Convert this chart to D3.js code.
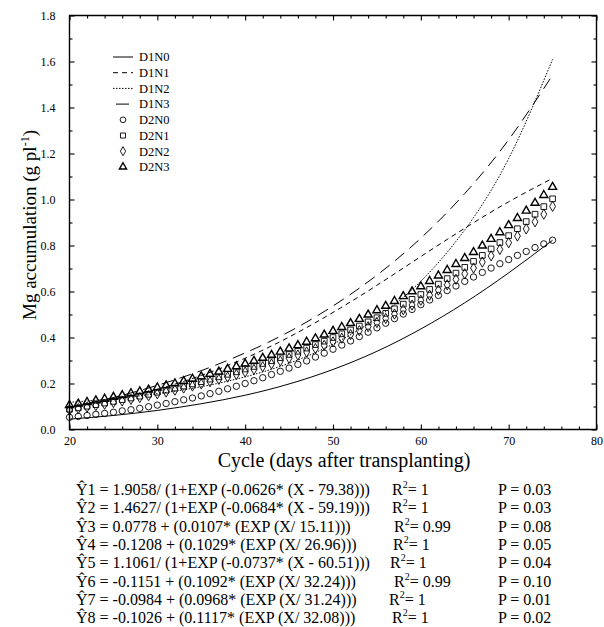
<!DOCTYPE html>
<html>
<head>
<meta charset="utf-8">
<title>Mg accumulation</title>
<style>
  body { margin: 0; background: #fff; }
  text { font-family: "Liberation Serif", "Times New Roman", serif; fill: #000; }
</style>
</head>
<body>
<svg width="604" height="627"></svg>
<script src="https://d3js.org/d3.v7.min.js"></script>
<script>
// data
var seriesNames = ["D1N0", "D1N1", "D1N2", "D1N3", "D2N0", "D2N1", "D2N2", "D2N3"];

// fitted lines (D1), every 5 days
var lineDays = [20, 25, 30, 35, 40, 45, 50, 55, 60, 65, 70, 75];
var d1n0 = [0.045, 0.061, 0.083, 0.112, 0.149, 0.198, 0.261, 0.340, 0.437, 0.551, 0.681, 0.823];
var d1n1 = [0.094, 0.129, 0.175, 0.235, 0.310, 0.402, 0.509, 0.627, 0.752, 0.875, 0.990, 1.092];
var d1n2 = [0.118, 0.134, 0.156, 0.186, 0.229, 0.288, 0.371, 0.485, 0.645, 0.868, 1.178, 1.609];
var d1n3 = [0.095, 0.139, 0.192, 0.256, 0.333, 0.425, 0.537, 0.671, 0.832, 1.026, 1.260, 1.541];

// symbols (D2), every day
var days = [20, 21, 22, 23, 24, 25, 26, 27, 28, 29, 30, 31, 32, 33, 34, 35, 36, 37, 38, 39,
  40, 41, 42, 43, 44, 45, 46, 47, 48, 49, 50, 51, 52, 53, 54, 55, 56, 57, 58, 59,
  60, 61, 62, 63, 64, 65, 66, 67, 68, 69, 70, 71, 72, 73, 74, 75];
var d2n0 = [0.053, 0.057, 0.061, 0.066, 0.070, 0.075, 0.081, 0.086, 0.092, 0.099,
  0.106, 0.113, 0.121, 0.129, 0.137, 0.146, 0.156, 0.166, 0.177, 0.188,
  0.200, 0.212, 0.225, 0.239, 0.253, 0.267, 0.283, 0.298, 0.315, 0.332,
  0.349, 0.367, 0.385, 0.404, 0.423, 0.442, 0.462, 0.482, 0.502, 0.522,
  0.543, 0.563, 0.583, 0.604, 0.624, 0.644, 0.663, 0.683, 0.702, 0.721,
  0.739, 0.757, 0.774, 0.791, 0.807, 0.823];
var d2n1 = [0.088, 0.094, 0.101, 0.108, 0.115, 0.122, 0.130, 0.137, 0.145, 0.153,
  0.162, 0.171, 0.180, 0.189, 0.198, 0.208, 0.219, 0.229, 0.240, 0.251,
  0.263, 0.274, 0.287, 0.299, 0.312, 0.326, 0.340, 0.354, 0.369, 0.384,
  0.400, 0.416, 0.433, 0.450, 0.468, 0.486, 0.505, 0.525, 0.545, 0.566,
  0.587, 0.609, 0.632, 0.656, 0.680, 0.705, 0.731, 0.757, 0.785, 0.813,
  0.843, 0.873, 0.904, 0.936, 0.969, 1.003];
var d2n2 = [0.085, 0.091, 0.097, 0.104, 0.110, 0.117, 0.124, 0.131, 0.139, 0.147,
  0.155, 0.163, 0.171, 0.180, 0.189, 0.198, 0.208, 0.218, 0.228, 0.239,
  0.250, 0.261, 0.273, 0.285, 0.298, 0.310, 0.324, 0.337, 0.352, 0.366,
  0.381, 0.397, 0.413, 0.430, 0.447, 0.465, 0.483, 0.502, 0.521, 0.541,
  0.562, 0.584, 0.606, 0.629, 0.653, 0.677, 0.702, 0.728, 0.755, 0.783,
  0.812, 0.841, 0.872, 0.903, 0.936, 0.970];
var d2n3 = [0.106, 0.112, 0.119, 0.126, 0.133, 0.141, 0.149, 0.157, 0.165, 0.173,
  0.182, 0.191, 0.200, 0.210, 0.220, 0.230, 0.241, 0.251, 0.263, 0.274,
  0.286, 0.298, 0.311, 0.324, 0.338, 0.352, 0.366, 0.381, 0.396, 0.412,
  0.428, 0.445, 0.462, 0.480, 0.499, 0.518, 0.537, 0.558, 0.579, 0.600,
  0.622, 0.645, 0.669, 0.693, 0.719, 0.745, 0.771, 0.799, 0.828, 0.857,
  0.888, 0.919, 0.951, 0.985, 1.019, 1.054];

var xTicks = [20, 30, 40, 50, 60, 70, 80];
var yTicks = [0.0, 0.2, 0.4, 0.6, 0.8, 1.0, 1.2, 1.4, 1.6, 1.8];

// regression equations under the plot
var eqNames = ["1", "2", "3", "4", "5", "6", "7", "8"];
var eqBodies = [
  "1.9058/ (1+EXP (-0.0626* (X - 79.38)))",
  "1.4627/ (1+EXP (-0.0684* (X - 59.19)))",
  "0.0778 + (0.0107* (EXP (X/ 15.11)))",
  "-0.1208 + (0.1029* (EXP (X/ 26.96)))",
  "1.1061/ (1+EXP (-0.0737* (X - 60.51)))",
  "-0.1151 + (0.1092* (EXP (X/ 32.24)))",
  "-0.0984 + (0.0968* (EXP (X/ 31.24)))",
  "-0.1026 + (0.1117* (EXP (X/ 32.08)))"
];
var r2Values = ["1", "1", "0.99", "1", "1", "0.99", "1", "1"];
var pValues = ["0.03", "0.03", "0.08", "0.05", "0.04", "0.10", "0.01", "0.02"];

// layout
var svg = d3.select("svg");
var plotLeft = 69.5, plotRight = 596.5, plotTop = 15.5, plotBottom = 429.5;

var x = d3.scaleLinear().domain([20, 80]).range([plotLeft, plotRight]);
var y = d3.scaleLinear().domain([0, 1.8]).range([plotBottom, plotTop]);

var plot = svg.append("g");

// lines
var lineStyles = {
  "D1N0": null,
  "D1N1": "5,4",
  "D1N2": "1.5,1.5",
  "D1N3": "12,7"
};
var lineSeries = [
  { name: "D1N0", values: d1n0 },
  { name: "D1N1", values: d1n1 },
  { name: "D1N2", values: d1n2 },
  { name: "D1N3", values: d1n3 }
];
var line = d3.line()
  .x(function (d) { return x(d[0]); })
  .y(function (d) { return y(d[1]); })
  .curve(d3.curveNatural);

lineSeries.forEach(function (s) {
  plot.append("path")
    .datum(lineDays.map(function (d, i) { return [d, s.values[i]]; }))
    .attr("d", line)
    .attr("fill", "none")
    .attr("stroke", "#000")
    .attr("stroke-width", 1)
    .attr("stroke-dasharray", lineStyles[s.name]);
});

// symbols
var symbolSeries = [
  { name: "D2N0", values: d2n0, type: d3.symbolCircle, size: 32, sw: 0.9 },
  { name: "D2N1", values: d2n1, type: d3.symbolSquare, size: 32, sw: 0.9 },
  { name: "D2N2", values: d2n2, type: d3.symbolDiamond, size: 30, sw: 0.9 },
  { name: "D2N3", values: d2n3, type: d3.symbolTriangle, size: 28, sw: 1.4 }
];
symbolSeries.forEach(function (s) {
  plot.selectAll(null)
    .data(days.map(function (d, i) { return [d, s.values[i]]; }))
    .enter().append("path")
    .attr("transform", function (d) { return "translate(" + x(d[0]) + "," + y(d[1]) + ")"; })
    .attr("d", d3.symbol().type(s.type).size(s.size))
    .attr("fill", "none")
    .attr("stroke", "#000")
    .attr("stroke-width", s.sw);
});

// frame and axes, ticks pointing inward on all four sides
svg.append("path")
  .attr("d", "M" + plotLeft + "," + plotTop + "H" + plotRight + "V" + plotBottom + "H" + plotLeft + "Z")
  .attr("fill", "none").attr("stroke", "#000").attr("stroke-width", 1.4);

function styleAxis(g) {
  g.select(".domain").remove();
  g.selectAll(".tick line").attr("stroke", "#000").attr("stroke-width", 1.1);
  g.selectAll("text").attr("font-size", 12).attr("font-family", "Liberation Serif").attr("fill", "#000");
}
var xMinor = d3.range(22, 80, 2).filter(function (v) { return v % 10 !== 0; });
var yMinor = d3.range(0.1, 1.8, 0.2);

svg.append("g").attr("transform", "translate(0," + plotBottom + ")")
  .call(d3.axisBottom(x).tickValues(xTicks).tickSize(-5).tickPadding(7).tickFormat(d3.format("d")))
  .call(styleAxis);
svg.append("g").attr("transform", "translate(0," + plotBottom + ")")
  .call(d3.axisBottom(x).tickValues(xMinor).tickSize(-3).tickFormat(""))
  .call(styleAxis);
svg.append("g").attr("transform", "translate(0," + plotTop + ")")
  .call(d3.axisTop(x).tickValues(xTicks).tickSize(-5).tickFormat(""))
  .call(styleAxis);
svg.append("g").attr("transform", "translate(0," + plotTop + ")")
  .call(d3.axisTop(x).tickValues(xMinor).tickSize(-3).tickFormat(""))
  .call(styleAxis);

svg.append("g").attr("transform", "translate(" + plotLeft + ",0)")
  .call(d3.axisLeft(y).tickValues(yTicks).tickSize(-5).tickPadding(14).tickFormat(d3.format(".1f")))
  .call(styleAxis);
svg.append("g").attr("transform", "translate(" + plotLeft + ",0)")
  .call(d3.axisLeft(y).tickValues(yMinor).tickSize(-3).tickFormat(""))
  .call(styleAxis);
svg.append("g").attr("transform", "translate(" + plotRight + ",0)")
  .call(d3.axisRight(y).tickValues(yTicks).tickSize(-5).tickFormat(""))
  .call(styleAxis);
svg.append("g").attr("transform", "translate(" + plotRight + ",0)")
  .call(d3.axisRight(y).tickValues(yMinor).tickSize(-3).tickFormat(""))
  .call(styleAxis);

// axis titles
svg.append("text")
  .attr("x", 344).attr("y", 467)
  .attr("text-anchor", "middle").attr("font-size", 20)
  .text("Cycle (days after transplanting)");

var yTitle = svg.append("text")
  .attr("transform", "translate(36,225) rotate(-90)")
  .attr("text-anchor", "middle").attr("font-size", 19);
yTitle.append("tspan").text("Mg accumulation (g pl");
yTitle.append("tspan").attr("font-size", 12).attr("dy", -7).text("-1");
yTitle.append("tspan").attr("dy", 7).text(")");

// legend
var legend = svg.append("g").attr("transform", "translate(113,57)");
seriesNames.forEach(function (name, i) {
  var row = legend.append("g").attr("transform", "translate(0," + i * 15.7 + ")");
  if (i < 4) {
    row.append("line")
      .attr("x1", name === "D1N3" ? 3 : 0).attr("x2", name === "D1N3" ? 16 : 20)
      .attr("y1", 0).attr("y2", 0)
      .attr("stroke", "#000").attr("stroke-width", 1)
      .attr("stroke-dasharray", name === "D1N3" ? null : lineStyles[name]);
  } else {
    var s = symbolSeries[i - 4];
    row.append("path")
      .attr("transform", "translate(10,0)")
      .attr("d", d3.symbol().type(s.type).size(s.size * 0.8))
      .attr("fill", "none").attr("stroke", "#000").attr("stroke-width", s.sw);
  }
  row.append("text")
    .attr("x", 26).attr("y", 0).attr("dy", "0.35em")
    .attr("font-size", 12.5)
    .text(name);
});

// equations block
var r2X = [392, 392, 394, 393, 390, 394, 389, 392];
var eqG = svg.append("g").attr("font-size", 16);
eqBodies.forEach(function (body, i) {
  var yy = 495 + i * 18.3;
  var t = eqG.append("text").attr("x", 76).attr("y", yy);
  t.append("tspan").text("\u0176");
  t.append("tspan").text(eqNames[i] + " = " + body);
  var r = eqG.append("text").attr("x", r2X[i]).attr("y", yy);
  r.append("tspan").text("R");
  r.append("tspan").attr("font-size", 10).attr("dy", -7).text("2");
  r.append("tspan").attr("dy", 7).text("= " + r2Values[i]);
  eqG.append("text").attr("x", 498).attr("y", yy).text("P = " + pValues[i]);
});
</script>
</body>
</html>
